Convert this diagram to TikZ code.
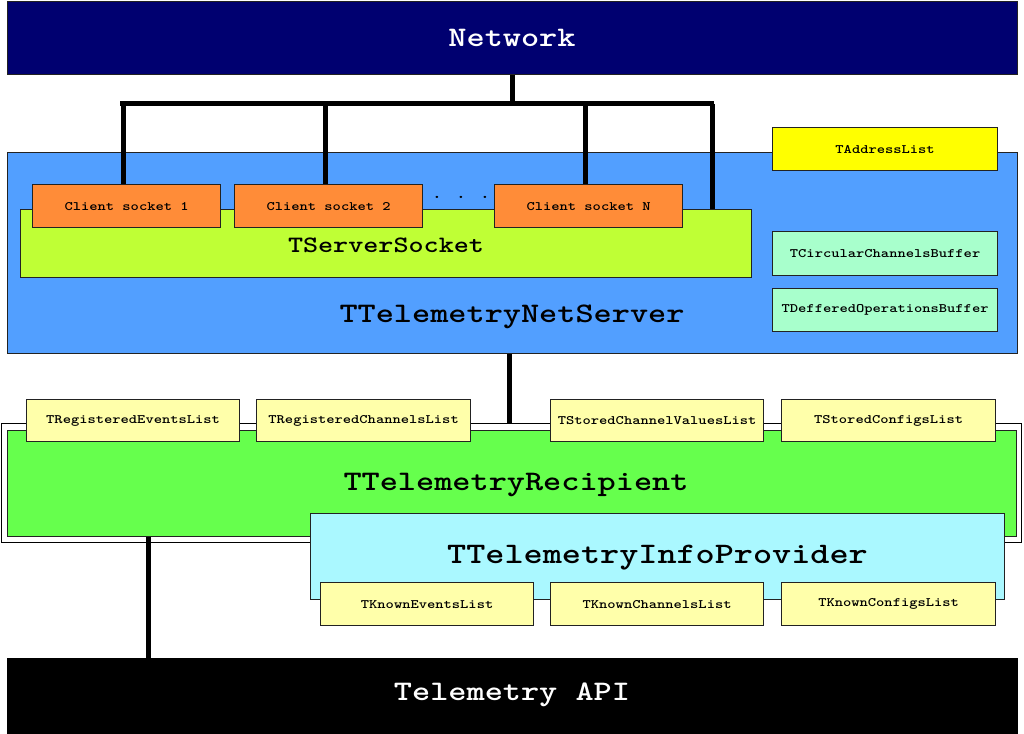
\documentclass[tikz,border=0pt]{standalone}
\usepackage{fontspec}
\usepackage{graphicx}
\definecolor{navy}{HTML}{000070}
\definecolor{srvblue}{HTML}{529FFF}
\definecolor{lime}{HTML}{BFFF35}
\definecolor{orng}{HTML}{FF8C38}
\definecolor{yel}{HTML}{FFFF00}
\definecolor{mint}{HTML}{A8FFCC}
\definecolor{ltyel}{HTML}{FFFFAA}
\definecolor{grn}{HTML}{66FF4D}
\definecolor{cyn}{HTML}{AAF8FF}
\definecolor{edge}{HTML}{222222}
\newcommand{\wtxt}[1]{\scalebox{1.222}[1]{#1}}
\tikzset{
  box/.style={draw=edge, line width=1.2pt, rectangle, inner sep=0pt, anchor=north west},
  bigtxt/.style={font=\ttfamily\bfseries\fontsize{28.3}{28}\selectfont, inner sep=0pt, anchor=base},
  smalltxt/.style={font=\ttfamily\bfseries\fontsize{12.9}{13}\selectfont},
  wire/.style={line width=5pt, black},
}
\begin{document}
\begin{tikzpicture}[x=1pt,y=-1pt]
\useasboundingbox (0,0) rectangle (1024,733);
% Network
\node[box, fill=navy, minimum width=1010pt, minimum height=73pt] (net) at (7,1) {};
\node[bigtxt, text=white] (nettxt) at (512,47) {\wtxt{Network}};
% Net server
\node[box, fill=srvblue, minimum width=1010pt, minimum height=201pt] (ns) at (7,152) {};
\node[bigtxt] (nstxt) at (512,322) {\wtxt{TTelemetryNetServer}};
\node[box, fill=lime, minimum width=731pt, minimum height=68pt] (ss) at (20,209) {};
\node[inner sep=0pt, anchor=base, font=\ttfamily\bfseries\fontsize{23.5}{24}\selectfont] (sstxt) at (386,252) {\wtxt{TServerSocket}};
% bus
\coordinate (busL) at (120,104);
\coordinate (busR) at (713.5,104);
\draw[wire] (busL) -- (busR);
\draw[wire] (net.south) -- (net.south |- busL);
% client sockets
\node[box, fill=orng, minimum width=188pt, minimum height=43pt] (cs1) at (32,184) {};
\node[box, fill=orng, minimum width=188pt, minimum height=43pt] (cs2) at (234,184) {};
\node[box, fill=orng, minimum width=188pt, minimum height=43pt] (csn) at (494,184) {};
\node[smalltxt] at (cs1.center) {\wtxt{Client socket 1}};
\node[smalltxt] at (cs2.center) {\wtxt{Client socket 2}};
\node[smalltxt] at (csn.center) {\wtxt{Client socket N}};
\node[inner sep=0pt, anchor=base, font=\ttfamily\bfseries\fontsize{16}{16}\selectfont] (dots) at (461,198) {\wtxt{. . .}};
\draw[wire] ([xshift=-3pt]cs1.north) -- ([xshift=-3pt]cs1.north |- busL);
\draw[wire] ([xshift=-3pt]cs2.north) -- ([xshift=-3pt]cs2.north |- busL);
\draw[wire] ([xshift=-3pt]csn.north) -- ([xshift=-3pt]csn.north |- busL);
\draw[wire] ([xshift=-40pt]ss.north east) -- ([xshift=-40pt]ss.north east |- busL);
% right boxes
\node[box, fill=yel, minimum width=225pt, minimum height=43pt] (al) at (772,127) {};
\node[smalltxt] at (al.center) {\wtxt{TAddressList}};
\node[box, fill=mint, minimum width=225pt, minimum height=44pt] (ccb) at (772,231) {};
\node[smalltxt] at (ccb.center) {\wtxt{TCircularChannelsBuffer}};
\node[box, fill=mint, minimum width=225pt, minimum height=43pt] (dob) at (772,288) {};
\node[smalltxt] at (dob.center) {\wtxt{TDefferedOperationsBuffer}};
% Recipient
\node[box, fill=white, draw=black, minimum width=1020pt, minimum height=119pt] (rec) at (1,423) {};
\node[box, fill=grn, minimum width=1009pt, minimum height=106pt] (recin) at (7,430) {};
\node[bigtxt] (rectxt) at (516,490) {\wtxt{TTelemetryRecipient}};
\draw[wire] ([xshift=-3pt]ns.south) -- ([xshift=-3pt]ns.south |- rec.north);
\draw[wire] ([xshift=-363.5pt]recin.south) -- ([xshift=-363.5pt]recin.south |- 0,658);
% top lists
\node[box, fill=ltyel, minimum width=213pt, minimum height=42pt] (rel) at (26,399) {};
\node[smalltxt] at (rel.center) {\wtxt{TRegisteredEventsList}};
\node[box, fill=ltyel, minimum width=214pt, minimum height=42pt] (rcl) at (256,399) {};
\node[smalltxt] at (rcl.center) {\wtxt{TRegisteredChannelsList}};
\node[box, fill=ltyel, minimum width=213pt, minimum height=42pt] (scv) at (550,399) {};
\node[smalltxt] at (scv.center) {\wtxt{TStoredChannelValuesList}};
\node[box, fill=ltyel, minimum width=214pt, minimum height=42pt] (scl) at (781,399) {};
\node[smalltxt] at (scl.center) {\wtxt{TStoredConfigsList}};
% Info provider
\node[box, fill=cyn, minimum width=694pt, minimum height=86pt] (ip) at (310,513) {};
\node[inner sep=0pt, anchor=base, font=\ttfamily\bfseries\fontsize{29.8}{30}\selectfont] (iptxt) at (657.5,563) {\wtxt{TTelemetryInfoProvider}};
\node[box, fill=ltyel, minimum width=213pt, minimum height=43pt] (kel) at (320,582) {};
\node[smalltxt] at (kel.center) {\wtxt{TKnownEventsList}};
\node[box, fill=ltyel, minimum width=213pt, minimum height=43pt] (kcl) at (550,582) {};
\node[smalltxt] at (kcl.center) {\wtxt{TKnownChannelsList}};
\node[box, fill=ltyel, minimum width=214pt, minimum height=43pt] (kfl) at (781,582) {};
\node[smalltxt] at (kfl.center) {\wtxt{TKnownConfigsList}};
% API
\node[box, fill=black, draw=black, minimum width=1010pt, minimum height=76pt] (api) at (7,658) {};
\node[bigtxt, text=white] (apitxt) at (512,700) {\wtxt{Telemetry API}};
\end{tikzpicture}
\end{document}
